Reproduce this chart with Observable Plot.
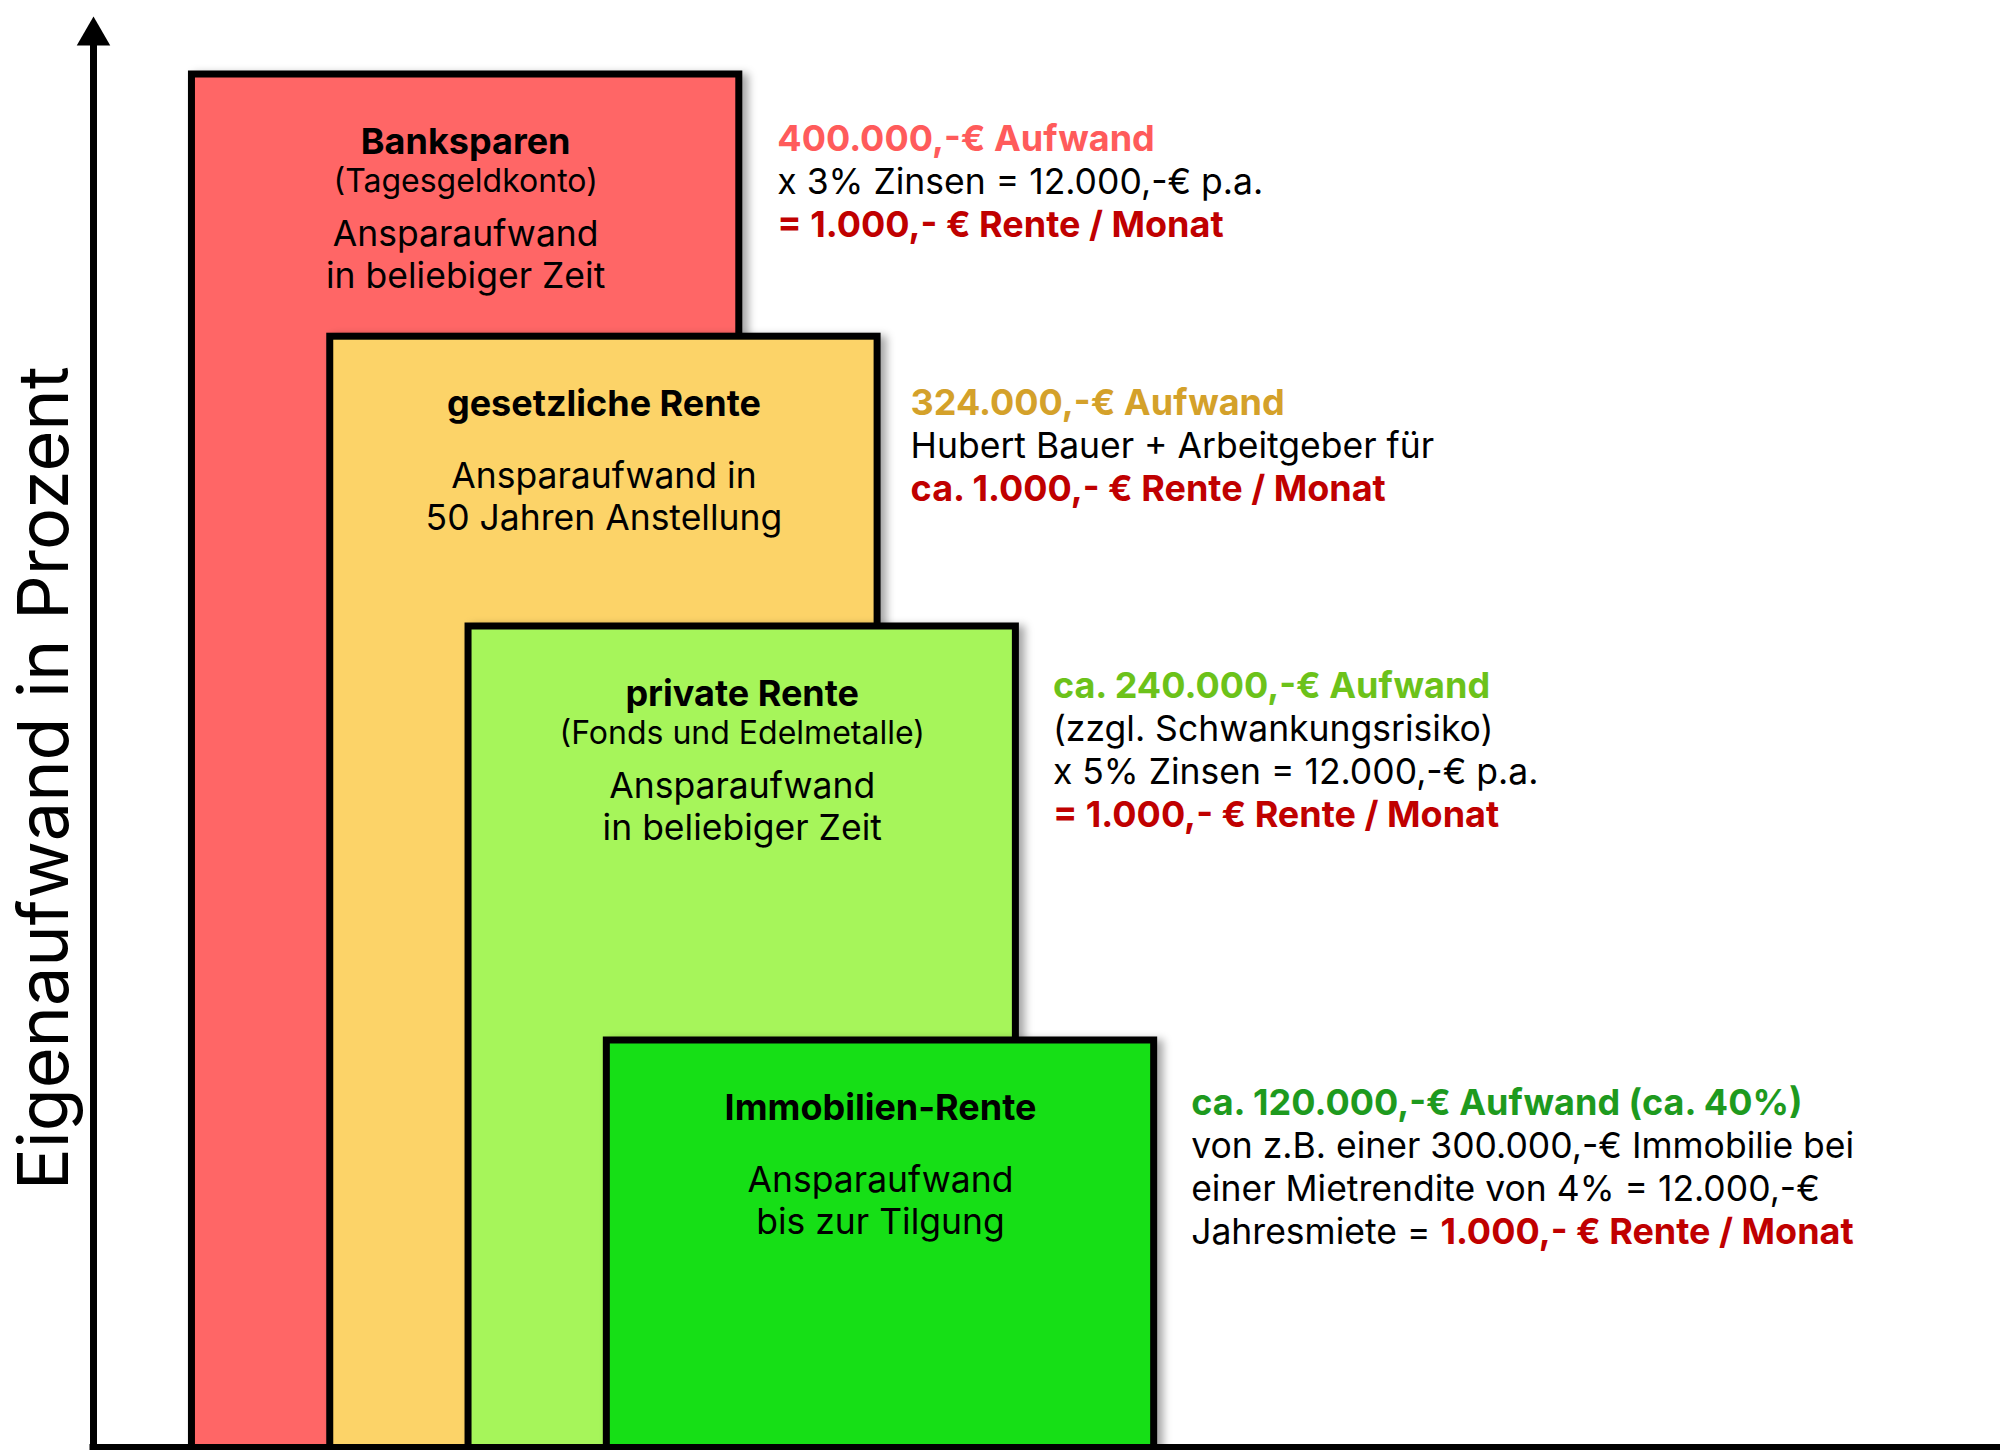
<!DOCTYPE html>
<html><head><meta charset="utf-8">
<script src="https://cdn.jsdelivr.net/npm/d3@7"></script>
<script src="https://cdn.jsdelivr.net/npm/@observablehq/plot@0.6"></script>
<style>
html,body{margin:0;padding:0;background:#fff;}
#chart{width:2000px;height:1450px;overflow:hidden;}
svg text{font-family:Inter,"Noto Sans",sans-serif;}
</style></head><body><div id="chart"></div>
<script>
// ---- data ----
const categories = ["Banksparen", "gesetzliche Rente", "private Rente", "Immobilien-Rente"];
const aufwand = [400, 324, 240, 120]; // Eigenaufwand in Tsd. €
const subtitles = ["(Tagesgeldkonto)", "", "(Fonds und Edelmetalle)", ""];
const descriptions = [
  ["Ansparaufwand", "in beliebiger Zeit"],
  ["Ansparaufwand in", "50 Jahren Anstellung"],
  ["Ansparaufwand", "in beliebiger Zeit"],
  ["Ansparaufwand", "bis zur Tilgung"]
];
const annoTitles = ["400.000,-€ Aufwand", "324.000,-€ Aufwand", "ca. 240.000,-€ Aufwand", "ca. 120.000,-€ Aufwand (ca. 40%)"];
const annoLines = [
  ["x 3% Zinsen = 12.000,-€ p.a."],
  ["Hubert Bauer + Arbeitgeber für"],
  ["(zzgl. Schwankungsrisiko)", "x 5% Zinsen = 12.000,-€ p.a."],
  ["von z.B. einer 300.000,-€ Immobilie bei", "einer Mietrendite von 4% = 12.000,-€", "Jahresmiete = "]
];
const annoResults = ["= 1.000,- € Rente / Monat", "ca. 1.000,- € Rente / Monat", "= 1.000,- € Rente / Monat", "1.000,- € Rente / Monat"];
const resultInline = [false, false, false, true];
const axisLabel = "Eigenaufwand in Prozent";

// ---- styles ----
const barFill = ["#FF6666", "#FCD367", "#A6F55A", "#17DF17"];
const annoColor = ["#FF5B5B", "#D4A12A", "#6CC21A", "#1E9A1E"];
const resultColor = "#C00000";
const FS_BOLD = 36, FS_REG = 35.5, FS_SUB = 32, FS_AXIS = 70;

// ---- layout ----
const W = 2000, H = 1450;
const yDomain = [0, 400], yRange = [1454, 74];
const xDomain = [0, 13.79], xRange = [93, 2000];
const yS = d3.scaleLinear(yDomain, yRange);
const xS = d3.scaleLinear(xDomain, xRange);
const yOff = (v, px) => yS.invert(yS(v) + px);
const xOff = (v, px) => xS.invert(xS(v) + px);
const AXIS_Y = 2;            // baseline of the chart (axis line)
const AXIS_TOP = 408.4;      // end of the vertical axis line
const ARROW_Y = 411.2;       // centre of arrow head
const barStart = 0.712, barStep = 1, barWidth = 3.958;

const bars = categories.map((c, i) => ({
  name: c, value: aufwand[i],
  x1: barStart + i * barStep, x2: barStart + i * barStep + barWidth,
  fill: barFill[i]
}));

const titles = [], subs = [], descs = [];
bars.forEach((b, i) => {
  const cx = (b.x1 + b.x2) / 2;
  titles.push({x: cx, y: yOff(b.value, 79), text: b.name});
  const hasSub = subtitles[i] !== "";
  if (hasSub) subs.push({x: cx, y: yOff(b.value, 117), text: subtitles[i]});
  const base = hasSub ? 171 : 151;
  descriptions[i].forEach((t, j) => descs.push({x: cx, y: yOff(b.value, base + j * 42.5), text: t}));
});

const LH = 43.3;
const annoDx = [38, 33, 37, 37];
const annoDy = [2, 4, -3, 0];
const aTitles = [], aLines = [], aResults = [], aInline = [];
bars.forEach((b, i) => {
  const ax = xOff(b.x2, annoDx[i]);
  const y0 = 74 + annoDy[i];
  aTitles.push({x: ax, y: yOff(b.value, y0), text: annoTitles[i], color: annoColor[i]});
  annoLines[i].forEach((t, j) => aLines.push({x: ax, y: yOff(b.value, y0 + LH * (j + 1)), text: t}));
  const n = annoLines[i].length;
  if (resultInline[i]) aInline.push({x: ax, y: yOff(b.value, y0 + LH * n), text: annoResults[i]});
  else aResults.push({x: ax, y: yOff(b.value, y0 + LH * (n + 1)), text: annoResults[i]});
});

// measure inline prefix width
const ctx = document.createElement("canvas").getContext("2d");
ctx.font = `400 ${FS_REG}px Inter`;
const inlinePrefix = annoLines[3][annoLines[3].length - 1];
const inlineDx = ctx.measureText(inlinePrefix).width;

const common = {fontFamily: "Inter", lineAnchor: "bottom"};

const chart = Plot.plot({
  width: W, height: H,
  marginTop: 0, marginRight: 0, marginBottom: 0, marginLeft: 0,
  x: {type: "linear", domain: xDomain, range: xRange, axis: null},
  y: {type: "linear", domain: yDomain, range: yRange, axis: null},
  color: {type: "identity"},
  style: {background: "white", overflow: "hidden"},
  marks: [
    Plot.rect(bars, {x1: "x1", x2: "x2", y1: 0, y2: "value", fill: "fill", stroke: "black", strokeWidth: 7}),
    Plot.text(titles, {...common, x: "x", y: "y", text: "text", fontSize: FS_BOLD, fontWeight: 700, fill: "black"}),
    Plot.text(subs, {...common, x: "x", y: "y", text: "text", fontSize: FS_SUB, fontWeight: 400, fill: "black"}),
    Plot.text(descs, {...common, x: "x", y: "y", text: "text", fontSize: FS_REG, fontWeight: 400, fill: "black"}),
    Plot.text(aTitles, {...common, x: "x", y: "y", text: "text", textAnchor: "start", fontSize: FS_BOLD, fontWeight: 700, fill: "color"}),
    Plot.text(aLines, {...common, x: "x", y: "y", text: "text", textAnchor: "start", fontSize: FS_REG, fontWeight: 400, fill: "black"}),
    Plot.text(aResults, {...common, x: "x", y: "y", text: "text", textAnchor: "start", fontSize: FS_BOLD, fontWeight: 700, fill: resultColor}),
    Plot.text(aInline, {...common, x: "x", y: "y", text: "text", dx: inlineDx, textAnchor: "start", fontSize: FS_BOLD, fontWeight: 700, fill: resultColor}),
    Plot.ruleY([AXIS_Y], {x1: 0, x2: xDomain[1], stroke: "black", strokeWidth: 7, strokeLinecap: "square"}),
    Plot.ruleX([0], {y1: AXIS_Y, y2: AXIS_TOP, stroke: "black", strokeWidth: 7, strokeLinecap: "square"}),
    Plot.dot([0], {x: 0, y: ARROW_Y, symbol: "triangle", r: 12.44, fill: "black", stroke: "none"}),
    Plot.text([axisLabel], {...common, x: -0.188, y: 196, text: d => d, rotate: -90, fontSize: FS_AXIS, fontWeight: 400, fill: "black"})
  ]
});

// soft drop shadow on the bars
const ns = "http://www.w3.org/2000/svg";
const defs = document.createElementNS(ns, "defs");
defs.innerHTML = `<filter id="barShadow" x="-10%" y="-10%" width="130%" height="130%">
  <feDropShadow dx="6" dy="3" stdDeviation="4" flood-color="#000" flood-opacity="0.35"/></filter>`;
chart.insertBefore(defs, chart.firstChild);
const rectGroup = chart.querySelector('g[aria-label="rect"]');
if (rectGroup) rectGroup.querySelectorAll("rect").forEach(r => r.setAttribute("filter", "url(#barShadow)"));

document.getElementById("chart").appendChild(chart);
</script>
</body></html>
